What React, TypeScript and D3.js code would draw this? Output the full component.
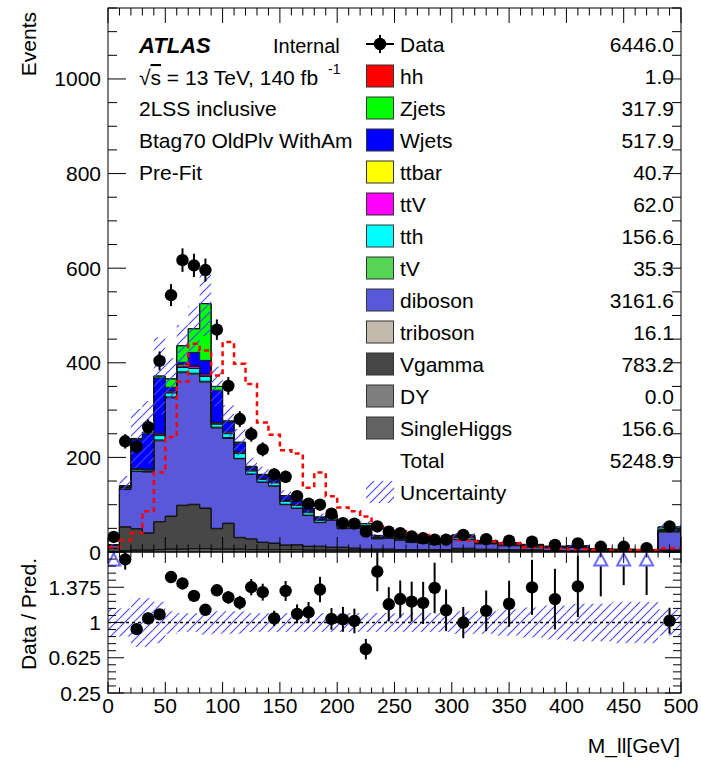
import React, { useEffect, useRef } from "react";
import * as d3 from "d3";

// bin edges: 10 GeV up to 300, then 20 GeV
const binEdges = [0, 10, 20, 30, 40, 50, 60, 70, 80, 90, 100, 110, 120, 130, 140, 150, 160, 170, 180, 190, 200,
  210, 220, 230, 240, 250, 260, 270, 280, 290, 300, 320, 340, 360, 380, 400, 420, 440, 460, 480, 500];

const dataCounts = [32, 234, 223, 264, 404, 543, 617, 606, 596, 470, 351, 281, 249, 217, 164, 159, 118, 102, 100, 81,
  61, 60, 43, 54, 43, 40, 33, 29, 26, 26, 36, 27, 24, 22, 15, 18, 11, 11, 8, 54];

const singleHiggs = [1, 3, 4, 4, 5, 6, 6, 7, 7, 6, 6, 6, 5, 5, 5, 5, 5, 4, 4, 4, 4, 4, 3, 3, 3, 3, 3, 3, 3, 3, 4, 3, 3, 3, 2, 2, 2, 2, 1, 3];
const dyBkg = [0, 0, 0, 0, 0, 0, 0, 0, 0, 0, 0, 0, 0, 0, 0, 0, 0, 0, 0, 0, 0, 0, 0, 0, 0, 0, 0, 0, 0, 0, 0, 0, 0, 0, 0, 0, 0, 0, 0, 0];
const vgamma = [7, 50, 45, 36, 59, 69, 92, 93, 85, 43, 54, 24, 22, 15, 13, 9, 10, 8, 8, 6, 6, 4, 3, 3, 3, 2, 2, 2, 2, 2, 3, 2, 1, 1, 1, 0, 0, 0, 0, 1];
const triboson = [0, 0, 0, 0, 0, 1, 1, 1, 1, 1, 1, 1, 1, 1, 1, 1, 0, 0, 0, 0, 0, 0, 0, 0, 0, 0, 0, 0, 0, 0, 1, 1, 1, 1, 0, 0, 0, 0, 0, 0];
const diboson = [6, 79, 121, 129, 171, 250, 280, 275, 266, 212, 179, 166, 136, 126, 120, 85, 77, 65, 50, 57,
  39, 42, 43, 22, 23, 20, 15, 14, 11, 15, 18, 11, 8, 5, 6, 8, 3, 2.5, 3, 38];
const tV = [0, 1, 1, 1, 2, 2, 2, 2, 2, 2, 2, 1, 1, 1, 1, 1, 1, 1, 1, 1, 1, 1, 0, 0, 0, 0, 0, 0, 0, 0, 1, 1, 1, 1, 0, 0, 0, 0, 0, 1];
const tth = [0, 2, 3, 3, 9, 8, 9, 10, 10, 6, 8, 10, 6, 5, 6, 6, 5, 5, 4, 3, 3, 2, 2, 2, 2, 2, 2, 1, 1, 1, 3, 2, 2, 2, 1, 1, 1, 1, 0, 2];
const ttV = [0, 1, 1, 1, 2, 2, 3, 4, 3, 2, 2, 2, 2, 2, 2, 2, 2, 2, 1, 1, 1, 1, 1, 1, 1, 1, 1, 1, 1, 1, 2, 1, 1, 1, 1, 1, 0, 0, 0, 1];
const ttbar = [0, 1, 1, 1, 2, 2, 3, 2, 2, 2, 2, 2, 1, 1, 1, 1, 1, 1, 1, 1, 1, 1, 1, 1, 1, 1, 1, 0, 0, 0, 1, 1, 1, 1, 0, 0, 0, 0, 0, 1];
const wjets = [1, 2, 62, 75, 118, 8, 5, 28, 29, 68, 21, 18, 5, 6, 6, 8, 6, 5, 4, 4, 3, 3, 3, 2, 2, 2, 2, 2, 1, 1, 2, 1, 1, 1, 1, 1, 0, 0, 0, 1];
const zjets = [0, 1, 2, 3, 4, 18, 35, 50, 120, 8, 2, 2, 2, 2, 2, 1, 1, 1, 1, 1, 1, 1, 4, 1, 1, 1, 1, 1, 0, 0, 1, 1, 1, 0, 0, 0, 0, 0, 0, 5];
const hh = [0, 0.01, 0.01, 0.02, 0.03, 0.03, 0.04, 0.05, 0.05, 0.06, 0.06, 0.05, 0.05, 0.05, 0.04, 0.04, 0.04, 0.03, 0.03, 0.03,
  0.03, 0.02, 0.02, 0.02, 0.02, 0.02, 0.01, 0.01, 0.01, 0.01, 0.02, 0.02, 0.01, 0.01, 0.01, 0.01, 0.01, 0, 0, 0.02];

// scaled hh signal drawn as dashed overlay
const hhScaled = [10, 25, 40, 86, 168, 243, 360, 440, 426, 373, 444, 398, 355, 274, 248, 215, 208, 136, 168, 118,
  94, 86, 75, 54, 48, 44, 40, 36, 32, 28, 25, 22, 18, 10, 8, 6, 5, 4, 4, 8];

const relUnc = [0.15, 0.15, 0.26, 0.26, 0.22, 0.12, 0.10, 0.10, 0.13, 0.12, 0.12, 0.12, 0.10, 0.10, 0.10, 0.10, 0.10, 0.10, 0.10, 0.10,
  0.10, 0.10, 0.10, 0.10, 0.10, 0.10, 0.10, 0.10, 0.10, 0.10, 0.12, 0.12, 0.14, 0.16, 0.18, 0.20, 0.20, 0.22, 0.22, 0.14];

const legendNames = ["hh", "Zjets", "Wjets", "ttbar", "ttV", "tth", "tV", "diboson", "triboson", "Vgamma", "DY", "SingleHiggs"];
const legendYields = ["1.0", "317.9", "517.9", "40.7", "62.0", "156.6", "35.3", "3161.6", "16.1", "783.2", "0.0", "156.6"];
const legendColors = ["#ff0000", "#00ff00", "#0000ff", "#ffff00", "#ff00ff", "#00ffff", "#55d455", "#5858d8", "#c4b9ad", "#474747", "#7f7f7f", "#626262"];
const dataYield = "6446.0";
const totalYield = "5248.9";

const mainYTicks = [0, 200, 400, 600, 800, 1000];
const ratioYTicks = [0.25, 0.625, 1, 1.375, 1.75];
const xTickLabels = [0, 50, 100, 150, 200, 250, 300, 350, 400, 450, 500];

const FONT = "'Liberation Sans', Arial, Helvetica, sans-serif";
const HATCH = "rgb(70,70,255)";

export default function App() {
  const ref = useRef<SVGSVGElement>(null);

  useEffect(() => {
    document.body.style.margin = "0";
    const svg = d3.select(ref.current);
    svg.selectAll("*").remove();

    const x = d3.scaleLinear().domain([0, 500]).range([108, 681]);
    const y = d3.scaleLinear().domain([0, 1150]).range([552, 8]);
    const yr = d3.scaleLinear().domain([0.25, 1.75]).range([693, 552]);

    const nb = dataCounts.length;
    const at = (arr: number[], i: number) => arr[Math.min(i, nb - 1)];
    const centers = d3.range(nb).map(i => (binEdges[i] + binEdges[i + 1]) / 2);

    const defs = svg.append("defs");
    const pat = defs.append("pattern").attr("id", "hatchBlue").attr("patternUnits", "userSpaceOnUse")
      .attr("width", 9).attr("height", 9);
    pat.append("path").attr("d", "M-2,2 L2,-2 M0,9 L9,0 M7,11 L11,7")
      .attr("fill", "none").style("stroke", HATCH).style("stroke-width", "1.1");
    defs.append("clipPath").attr("id", "clipMain").append("rect")
      .attr("x", 108).attr("y", 8).attr("width", 573).attr("height", 544);
    defs.append("clipPath").attr("id", "clipRatio").append("rect")
      .attr("x", 108).attr("y", 552).attr("width", 573).attr("height", 141);

    // ---- stack, bottom to top
    const layers = [
      { v: singleHiggs, c: legendColors[11] },
      { v: dyBkg, c: legendColors[10] },
      { v: vgamma, c: legendColors[9] },
      { v: triboson, c: legendColors[8] },
      { v: diboson, c: legendColors[7] },
      { v: tV, c: legendColors[6] },
      { v: tth, c: legendColors[5] },
      { v: ttV, c: legendColors[4] },
      { v: ttbar, c: legendColors[3] },
      { v: wjets, c: legendColors[2] },
      { v: zjets, c: legendColors[1] },
      { v: hh, c: legendColors[0] },
    ];

    let cum = new Array(nb).fill(0);
    const stacked = layers.map(l => {
      const lo = cum.slice();
      cum = cum.map((c, i) => c + l.v[i]);
      return { c: l.c, lo, hi: cum.slice() };
    });
    const total = cum;

    const gMain = svg.append("g").attr("clip-path", "url(#clipMain)");

    const area = (lo: number[], hi: number[]) => d3.area<number>()
      .x(d => x(d))
      .y0((d, i) => y(at(lo, i)))
      .y1((d, i) => y(at(hi, i)))
      .curve(d3.curveStepAfter)(binEdges);

    const stepLine = (vals: number[], closed: boolean) => {
      const pts: [number, number][] = binEdges.map((e, i) => [x(e), y(at(vals, i))]);
      if (closed) {
        pts.unshift([x(0), y(0)]);
        pts.push([x(500), y(0)]);
      }
      return d3.line().curve(d3.curveStepAfter)(pts);
    };

    stacked.forEach(s => {
      gMain.append("path").attr("d", area(s.lo, s.hi)).attr("fill", s.c);
    });
    stacked.forEach(s => {
      gMain.append("path").attr("d", stepLine(s.hi, true))
        .attr("fill", "none").attr("stroke", "#111").attr("stroke-width", 1);
    });

    // uncertainty band
    gMain.selectAll(".unc").data(d3.range(nb)).enter().append("rect")
      .attr("x", i => x(binEdges[i]))
      .attr("width", i => x(binEdges[i + 1]) - x(binEdges[i]))
      .attr("y", i => y(total[i] * (1 + relUnc[i])))
      .attr("height", i => y(total[i] * (1 - relUnc[i])) - y(total[i] * (1 + relUnc[i])))
      .attr("fill", "url(#hatchBlue)");

    // scaled signal
    gMain.append("path").attr("d", stepLine(hhScaled, false))
      .attr("fill", "none").attr("stroke", "#ff0000").attr("stroke-width", 2.5)
      .attr("stroke-dasharray", "5,4");

    // data
    const gData = gMain.append("g");
    d3.range(nb).forEach(i => {
      const n = dataCounts[i];
      const e = Math.sqrt(n);
      gData.append("line").attr("x1", x(centers[i])).attr("x2", x(centers[i]))
        .attr("y1", y(n - e)).attr("y2", y(n + e)).attr("stroke", "#000").attr("stroke-width", 2);
      gData.append("circle").attr("cx", x(centers[i])).attr("cy", y(n)).attr("r", 6.2).attr("fill", "#000");
    });

    // ---- text block
    const txt = (tx: number, ty: number, s: string, size = 21, anchor = "start") =>
      svg.append("text").attr("x", tx).attr("y", ty).attr("font-family", FONT).attr("font-size", size)
        .attr("text-anchor", anchor).attr("fill", "#000").text(s);

    txt(139, 53, "ATLAS", 22).attr("font-weight", "bold").attr("font-style", "italic");
    txt(273, 53, "Internal", 20);
    const sq = svg.append("text").attr("x", 139).attr("y", 85).attr("font-family", FONT).attr("font-size", 21);
    sq.append("tspan").text("√");
    sq.append("tspan").attr("text-decoration", "overline").text("s");
    sq.append("tspan").text(" = 13 TeV, 140 fb");
    sq.append("tspan").attr("dx", 10).attr("dy", -11).attr("font-size", 14).text("-1");
    txt(139, 116, "2LSS inclusive");
    txt(139, 148, "Btag70 OldPlv WithAm");
    txt(139, 180, "Pre-Fit");

    // ---- legend
    svg.append("rect").attr("x", 364).attr("y", 27).attr("width", 299).attr("height", 481).attr("fill", "#fff");
    const rowY = (k: number) => 44 + 32 * k;
    // data entry
    svg.append("line").attr("x1", 366).attr("x2", 394).attr("y1", rowY(0)).attr("y2", rowY(0))
      .attr("stroke", "#000").attr("stroke-width", 2);
    svg.append("line").attr("x1", 380).attr("x2", 380).attr("y1", rowY(0) - 9).attr("y2", rowY(0) + 9)
      .attr("stroke", "#000").attr("stroke-width", 2);
    svg.append("circle").attr("cx", 380).attr("cy", rowY(0)).attr("r", 6.2).attr("fill", "#000");
    txt(400, rowY(0) + 7.5, "Data");
    txt(674, rowY(0) + 7.5, dataYield, 21, "end");
    legendNames.forEach((nm, k) => {
      const yy = rowY(k + 1);
      svg.append("rect").attr("x", 366.5).attr("y", yy - 11).attr("width", 27).attr("height", 22)
        .attr("fill", legendColors[k]).attr("stroke", "#333").attr("stroke-width", 1);
      txt(400, yy + 7.5, nm);
      txt(674, yy + 7.5, legendYields[k], 21, "end");
    });
    txt(400, rowY(13) + 7.5, "Total");
    txt(674, rowY(13) + 7.5, totalYield, 21, "end");
    svg.append("rect").attr("x", 366).attr("y", rowY(14) - 11).attr("width", 28).attr("height", 22)
      .attr("fill", "url(#hatchBlue)");
    txt(400, rowY(14) + 7.5, "Uncertainty");

    // ---- ratio panel
    const gRat = svg.append("g").attr("clip-path", "url(#clipRatio)");
    gRat.selectAll(".runc").data(d3.range(nb)).enter().append("rect")
      .attr("x", i => x(binEdges[i]))
      .attr("width", i => x(binEdges[i + 1]) - x(binEdges[i]))
      .attr("y", i => yr(1 + relUnc[i]))
      .attr("height", i => yr(1 - relUnc[i]) - yr(1 + relUnc[i]))
      .attr("fill", "url(#hatchBlue)");
    gRat.append("line").attr("x1", 108).attr("x2", 681).attr("y1", yr(1)).attr("y2", yr(1))
      .attr("stroke", "#000").attr("stroke-width", 1.5).attr("stroke-dasharray", "3,3");

    d3.range(nb).forEach(i => {
      const n = dataCounts[i];
      const r = n / total[i];
      const e = Math.sqrt(n) / total[i];
      const cx = x(centers[i]);
      if (r > 1.75) {
        gRat.append("line").attr("x1", cx).attr("x2", cx).attr("y1", yr(r - e)).attr("y2", yr(1.75) + 12)
          .attr("stroke", "#000").attr("stroke-width", 2);
        const t = yr(1.75) + 1.5;
        gRat.append("path").attr("d", `M${cx},${t} L${cx - 6.5},${t + 12} L${cx + 6.5},${t + 12} Z`)
          .attr("fill", "#fff").attr("stroke", "#6a6aff").attr("stroke-width", 2);
      } else {
        gRat.append("line").attr("x1", cx).attr("x2", cx).attr("y1", yr(r - e)).attr("y2", yr(r + e))
          .attr("stroke", "#000").attr("stroke-width", 2);
        gRat.append("circle").attr("cx", cx).attr("cy", yr(r)).attr("r", 6.2).attr("fill", "#000");
      }
    });

    // ---- frames and ticks
    const frame = svg.append("g").attr("stroke", "#000").attr("stroke-width", 1).attr("fill", "none");
    frame.append("rect").attr("x", 108).attr("y", 8).attr("width", 573).attr("height", 544);
    frame.append("rect").attr("x", 108).attr("y", 552).attr("width", 573).attr("height", 141);

    const tick = (x1: number, y1: number, x2: number, y2: number) =>
      frame.append("line").attr("x1", x1).attr("y1", y1).attr("x2", x2).attr("y2", y2);

    d3.range(0, 501, 10).forEach(v => {
      const maj = v % 50 === 0;
      const px = x(v);
      const lm = maj ? 15 : 7.5;
      const lr = maj ? 11 : 5.5;
      tick(px, 8, px, 8 + lm);
      tick(px, 552, px, 552 - lm);
      tick(px, 552, px, 552 + lr);
      tick(px, 693, px, 693 - lr);
    });
    d3.range(0, 1151, 50).forEach(v => {
      const maj = v % 200 === 0;
      const l = maj ? 18 : 9;
      tick(108, y(v), 108 + l, y(v));
      tick(681, y(v), 681 - l, y(v));
    });
    d3.range(0, 21).forEach(k => {
      const v = 0.25 + 0.075 * k;
      const maj = k % 5 === 0;
      const l = maj ? 16 : 8;
      tick(108, yr(v), 108 + l, yr(v));
      tick(681, yr(v), 681 - l, yr(v));
    });

    // ---- axis labels
    mainYTicks.forEach(v => txt(101, y(v) + 7.5, String(v), 21, "end"));
    ratioYTicks.slice(0, 4).forEach(v => txt(101, yr(v) + 7.5, String(v), 21, "end"));
    xTickLabels.forEach(v => txt(x(v), 713, String(v), 21, "middle"));

    svg.append("text").attr("transform", "translate(36,12) rotate(-90)").attr("text-anchor", "end")
      .attr("font-family", FONT).attr("font-size", 21).text("Events");
    svg.append("text").attr("transform", "translate(36,558) rotate(-90)").attr("text-anchor", "end")
      .attr("font-family", FONT).attr("font-size", 21).text("Data / Pred.");
    txt(680, 753, "M_ll[GeV]", 21, "end");
  }, []);

  return <svg ref={ref} width={701} height={763} style={{ display: "block", background: "#fff" }} />;
}
